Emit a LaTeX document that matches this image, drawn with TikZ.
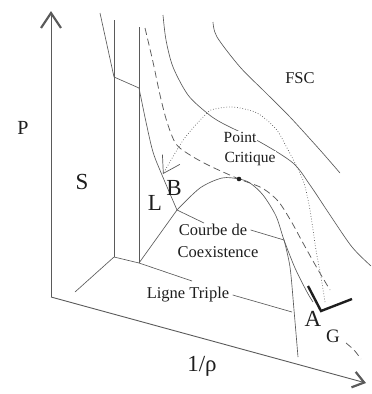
\documentclass[tikz,border=0pt]{standalone}
\usepackage{fontspec}
\setmainfont{Liberation Serif}
\usetikzlibrary{arrows.meta}
\definecolor{trait}{RGB}{90,90,90}
\definecolor{encre}{RGB}{30,30,30}

\begin{document}
\begin{tikzpicture}[x=1pt,y=-1pt,
    ligne/.style={trait, line width=0.65pt},
    tirets/.style={trait, line width=0.75pt, dash pattern=on 7pt off 4pt},
    pointille/.style={trait, line width=0.7pt, dotted},
    axe/.style={trait, line width=0.9pt},
    lbl/.style={font=\fontsize{16.5}{16.5}\selectfont, text=encre},
    lettre/.style={font=\fontsize{23}{23}\selectfont, text=encre},
    ptlbl/.style={lbl, font=\fontsize{15.5}{15.5}\selectfont, fill=white, inner sep=1pt}
]
\useasboundingbox (0,0) rectangle (372,394);

% Points de repere
\coordinate (O) at (51,297);
\coordinate (Ptop) at (51,11);
\coordinate (Rtip) at (366,383);
\coordinate (T1) at (114,257);
\coordinate (T2) at (139,263);
\coordinate (T3) at (192,281);
\coordinate (J) at (177,210);
\coordinate (C) at (239,179);
\coordinate (Kd) at (284,240);

% Axes
\draw[axe, -{Straight Barb[length=15pt,width=20pt,line width=2.2pt]}] (O) -- (Ptop);
\draw[axe, -{Straight Barb[length=11pt,width=16pt,line width=2.2pt]}] (O) -- (Rtip);
\node[lettre, font=\fontsize{20}{20}\selectfont] (nP) at (23,128) {P};
\node[lbl] (nR) at (202,366) {\fontsize{23}{23}\selectfont 1/ρ};

% Solide
\draw[ligne] (100,13) -- (114,77);
\draw[ligne] (114,20) -- (T1);
\draw[ligne] (114,77) -- (139,88);
\draw[ligne] (139,27) -- (T2);
\draw[ligne] (T1) -- (75,292);
\node[lettre] (nS) at (82,182) {S};

% Ligne triple
\draw[ligne] (T1) -- (T2) -- (T3);

% Liquidus
\draw[ligne] plot[smooth] coordinates {(139,88) (146,122) (153,152) (162,175) (J)};

% Courbe de coexistence
\draw[ligne] (T2) -- (J);
\draw[ligne] plot[smooth] coordinates {(J) (200,188) (222,178) (C) (250,183) (263,195) (276,216) (Kd) (295,268) (307,292) (313,302)};
\draw[ligne] plot[smooth] coordinates {(Kd) (290,267) (294,310) (298,357)};

% Isothermes
\draw[ligne] plot[smooth] coordinates {(213,22) (217,37) (240,67) (265,92) (290,117) (320,150) (340,173)};
\draw[ligne] plot[smooth] coordinates {(163,15) (166,40) (173,67) (188,95) (207,113) (222,123) (260,142) (293,163) (310,185) (330,215) (352,247) (371,266)};
\draw[tirets] plot[smooth] coordinates {(145,28) (153,62) (160,95) (167,122) (176,144) (190,155) (210,166) (C) (262,188) (278,201) (291,221) (303,243) (317,268) (330,290)};
\draw[tirets] plot[smooth] coordinates {(346,343) (354,350) (361,359)};
\draw[pointille, -{Straight Barb[length=16pt,width=20pt,line width=0.7pt]}] plot[smooth] coordinates {(325,302) (321,277) (316,250) (310,210) (304,183) (296,165) (287,148) (276,129) (257,113) (233,107) (215,109) (207,113) (184,139) (163,174)};

% Point critique
\fill[encre] (C) circle (2.3);
\node[ptlbl] (nPt) at (240,137) {Point};
\node[ptlbl] (nCr) at (250,159) {Critique};
\node[lbl] (nFSC) at (300,78) {FSC};

% Reperes
\node[lettre] (nB) at (174,188) {B};
\node[lettre] (nL) at (155,203) {L};
\node[lettre] (nA) at (313,319) {A};
\node[lbl, font=\fontsize{19}{19}\selectfont] (nG) at (333,336) {G};
\draw[encre, line width=2.4pt] (308,286) -- (321,311) -- (352,299);

% Etiquettes et renvois
\node[lbl] (nCo) at (213,230) {Courbe de};
\node[lbl] (nCx) at (218,252) {Coexistence};
\node[lbl] (nLT) at (188,295) {Ligne Triple};
\draw[ligne] (J) -- (204,223);
\draw[ligne] (nCo.east) -- (Kd);
\draw[ligne] (nLT.east) -- (292,312);
\end{tikzpicture}
\end{document}
